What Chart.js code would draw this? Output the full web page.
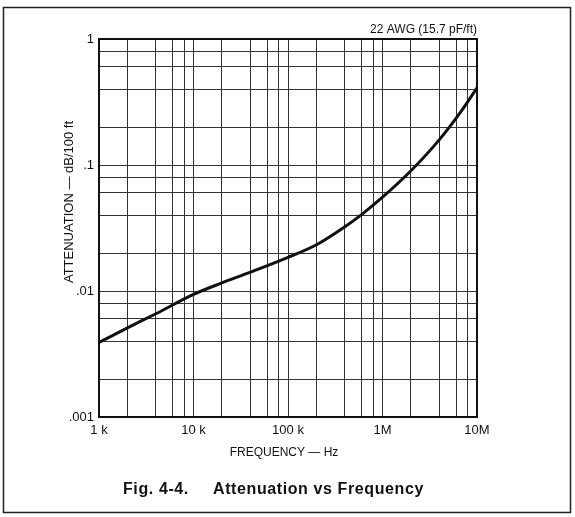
<!DOCTYPE html>
<html>
<head>
<meta charset="utf-8">
<script src="https://cdn.jsdelivr.net/npm/chart.js@4.4.1/dist/chart.umd.min.js"></script>
<style>
  html, body { margin: 0; padding: 0; background: #fff; }
  #wrap { width: 575px; height: 517px; position: relative; }
</style>
</head>
<body>
<div id="wrap"><canvas id="myChart" width="575" height="517"></canvas></div>
<script>
// curve (Hz, dB/100 ft)
const freqs = [1e3, 2e3, 4e3, 1e4, 2e4, 4e4, 1e5, 2e5, 4e5, 6e5, 1e6, 2e6, 4e6, 7e6, 1e7];
const atten = [0.0039, 0.0051, 0.0066, 0.0094, 0.0116, 0.0141, 0.0185, 0.0233, 0.0324, 0.0404, 0.0555, 0.09, 0.159, 0.275, 0.41];

const xMajor = [1e3, 1e4, 1e5, 1e6, 1e7];
const xLabels = ['1 k', '10 k', '100 k', '1M', '10M'];
const yMajor = [0.001, 0.01, 0.1, 1];
const yLabels = ['.001', '.01', '.1', '1'];
const minorSteps = [2, 4, 6, 8];

const FONT = "'Liberation Sans', Arial, Helvetica, sans-serif";

// grid positions: every decade plus 2,4,6,8 inside it
const gridValues = (majors) => {
  const out = [];
  majors.forEach((m, i) => {
    out.push(m);
    if (i < majors.length - 1) minorSteps.forEach(s => out.push(m * s));
  });
  return out;
};

const labelFor = (majors, labels) => (value) => {
  const i = majors.findIndex(m => Math.abs(m - value) / m < 1e-6);
  return i >= 0 ? labels[i] : '';
};

const decorations = {
  id: 'decorations',
  beforeDraw(chart) {
    const ctx = chart.ctx;
    ctx.save();
    ctx.fillStyle = '#fff';
    ctx.fillRect(0, 0, chart.width, chart.height);
    ctx.restore();
  },
  afterDraw(chart) {
    const { ctx, chartArea: a } = chart;
    ctx.save();
    // plot frame
    ctx.strokeStyle = '#111';
    ctx.lineWidth = 2;
    ctx.strokeRect(a.left, a.top, a.right - a.left, a.bottom - a.top);
    // outer figure frame
    ctx.lineWidth = 1.5;
    ctx.strokeStyle = '#222';
    ctx.strokeRect(3.5, 7.5, 567, 505);

    ctx.fillStyle = '#111';
    ctx.font = '12px ' + FONT;
    ctx.textBaseline = 'middle';
    ctx.textAlign = 'right';
    ctx.fillText('22 AWG (15.7 pF/ft)', a.right, 30);

    ctx.textAlign = 'center';
    ctx.fillText('FREQUENCY \u2014 Hz', 284, 453);

    ctx.save();
    ctx.translate(69, 202);
    ctx.rotate(-Math.PI / 2);
    ctx.font = '13px ' + FONT;
    ctx.fillText('ATTENUATION \u2014 dB/100 ft', 0, 0);
    ctx.restore();

    ctx.font = 'bold 16px ' + FONT;
    ctx.textAlign = 'left';
    ctx.letterSpacing = '0.6px';
    ctx.fillText('Fig. 4-4.', 123, 490);
    ctx.fillText('Attenuation vs Frequency', 213, 490);
    ctx.restore();
  }
};

new Chart(document.getElementById('myChart'), {
  type: 'line',
  data: {
    datasets: [{
      data: freqs.map((f, i) => ({ x: f, y: atten[i] })),
      borderColor: '#111',
      borderWidth: 3,
      pointRadius: 0,
      cubicInterpolationMode: 'monotone',
      fill: false
    }]
  },
  options: {
    responsive: false,
    animation: false,
    layout: { padding: { left: 0, top: 39, right: 98, bottom: 0 } },
    plugins: { legend: { display: false }, tooltip: { enabled: false } },
    scales: {
      x: {
        type: 'logarithmic',
        min: 1e3,
        max: 1e7,
        afterBuildTicks: (scale) => { scale.ticks = gridValues(xMajor).map(v => ({ value: v })); },
        afterFit: (scale) => { scale.height = 100; },
        grid: { color: '#333', lineWidth: 1, drawTicks: false },
        border: { color: '#111', width: 2 },
        ticks: {
          autoSkip: false,
          maxRotation: 0,
          padding: 6,
          color: '#111',
          font: { family: FONT, size: 13 },
          callback: labelFor(xMajor, xLabels)
        }
      },
      y: {
        type: 'logarithmic',
        min: 0.001,
        max: 1,
        afterBuildTicks: (scale) => { scale.ticks = gridValues(yMajor).map(v => ({ value: v })); },
        afterFit: (scale) => { scale.width = 99; },
        grid: { color: '#333', lineWidth: 1, drawTicks: false },
        border: { color: '#111', width: 2 },
        ticks: {
          autoSkip: false,
          padding: 5,
          color: '#111',
          font: { family: FONT, size: 13 },
          callback: labelFor(yMajor, yLabels)
        }
      }
    }
  },
  plugins: [decorations]
});
</script>
</body>
</html>
